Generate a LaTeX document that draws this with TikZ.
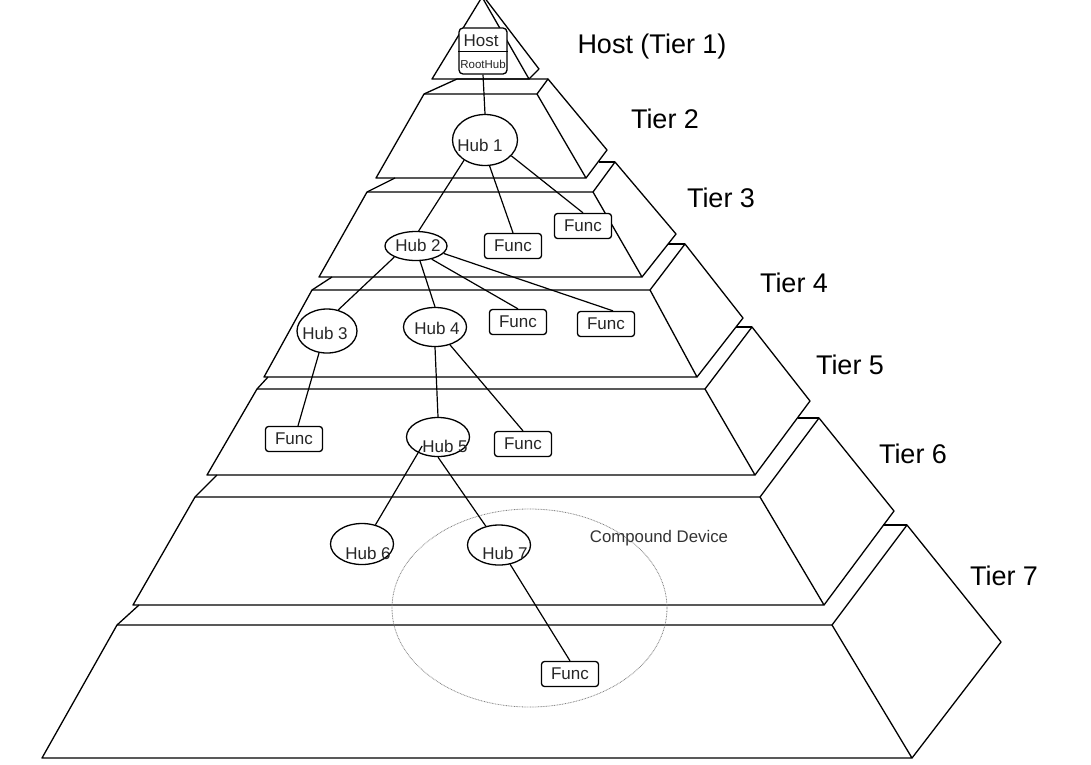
\documentclass[tikz,border=0pt]{standalone}
\usepackage{fontspec}
\setmainfont{Liberation Sans}
\usetikzlibrary{shapes.geometric}
\newcommand\nodefont{\fontsize{17}{19}\selectfont}
\newcommand\cdfont{\fontsize{16.8}{19}\selectfont}
\newcommand\smallfont{\fontsize{11.5}{13}\selectfont}
\newcommand\tierfont{\fontsize{27}{31}\selectfont}
\tikzset{
  pyr/.style={line width=1.3pt, line join=round, black},
  hub/.style={draw, ellipse, line width=1.3pt, inner sep=0pt, fill=white},
  hubtext/.style={inner sep=0pt, font=\nodefont, text=black!85},
  func/.style={draw, rounded corners=3pt, line width=1.3pt, minimum width=57pt, minimum height=25pt, inner sep=0pt, font=\nodefont, text=black!85, fill=white},
  tierlabel/.style={font=\tierfont, text=black},
  conn/.style={line width=1.2pt},
  compound/.style={draw=gray, ellipse, line width=0.8pt, dash pattern=on 0.8pt off 0.8pt, inner sep=0pt}
}
\begin{document}
\begin{tikzpicture}[x=1pt, y=-1pt]
\useasboundingbox (0,0) rectangle (1091,764);

% ---- pyramid tiers ----
% Tier 1
\draw[pyr] (432,79) -- (482,-3) -- (529,79) -- cycle;
\draw[pyr] (484,-3) -- (539,69) -- (529,79);
% Tier 2
\draw[pyr] (424,94) -- (537,94) -- (586,178) -- (376,178) -- cycle;
\draw[pyr] (537,94) -- (548,79) -- (607,150) -- (586,178);
\draw[pyr] (424,94) -- (457,79) -- (548,79);
% Tier 3
\draw[pyr] (367,192) -- (593,192) -- (642,277) -- (319,277) -- cycle;
\draw[pyr] (593,192) -- (615,162) -- (676,234) -- (642,277);
\draw[pyr] (367,192) -- (395,178);
\draw[pyr] (599,162) -- (615,162);
% Tier 4
\draw[pyr] (312,290) -- (650,290) -- (697,377) -- (264,377) -- cycle;
\draw[pyr] (650,290) -- (685,244) -- (743,318) -- (697,377);
\draw[pyr] (312,290) -- (332,277);
\draw[pyr] (668,244) -- (685,244);
% Tier 5
\draw[pyr] (257,389) -- (705,389) -- (755,475) -- (207,475) -- cycle;
\draw[pyr] (705,389) -- (752,327) -- (810,401) -- (755,475);
\draw[pyr] (257,389) -- (268,377);
\draw[pyr] (736,327) -- (752,327);
% Tier 6
\draw[pyr] (195,497) -- (760,497) -- (824,605) -- (133,605) -- cycle;
\draw[pyr] (760,497) -- (819,418) -- (894,511) -- (824,605);
\draw[pyr] (195,497) -- (217,475);
\draw[pyr] (798,418) -- (819,418);
% Tier 7
\draw[pyr] (117,625) -- (832,625) -- (912,758) -- (42,758) -- cycle;
\draw[pyr] (832,625) -- (907,525) -- (1001,642) -- (912,758);
\draw[pyr] (117,625) -- (139,605);
\draw[pyr] (883,525) -- (907,525);

% ---- tier labels ----
\node[tierlabel] (t1) at (652,47) {Host (Tier 1)};
\node[tierlabel] (t2) at (665,119) {Tier 2};
\node[tierlabel] (t3) at (721,198) {Tier 3};
\node[tierlabel] (t4) at (794,283) {Tier 4};
\node[tierlabel] (t5) at (850,365) {Tier 5};
\node[tierlabel] (t6) at (913,454) {Tier 6};
\node[tierlabel] (t7) at (1004,576) {Tier 7};

% ---- compound device ----
\node[compound, minimum width=275pt, minimum height=198pt] (cd) at (529.5,608) {};
\node[font=\cdfont, text=black!80, inner sep=0pt] (cdt) at (659,538) {Compound Device};

% ---- host box ----
\node[draw, rounded corners=4pt, line width=1.3pt, minimum width=48pt, minimum height=46pt, inner sep=0pt, fill=white] (host) at (483,51) {};
\draw[line width=1pt] (host.west) -- (host.east);
\node[hubtext] (hostt) at (481,41) {Host};
\node[inner sep=0pt, font=\smallfont, text=black!85] (rooth) at (483,64) {RootHub};

% ---- hubs ----
\node[hub, minimum width=65pt, minimum height=51pt] (h1) at (485,140) {};
\node[hubtext] (h1t) at (480,145) {Hub 1};
\node[hub, minimum width=62pt, minimum height=29pt] (h2) at (416,246) {};
\node[hubtext] (h2t) at (418,245) {Hub 2};
\node[hub, minimum width=60pt, minimum height=44pt] (h3) at (327,331) {};
\node[hubtext] (h3t) at (325,333) {Hub 3};
\node[hub, minimum width=63pt, minimum height=39pt] (h4) at (435,327) {};
\node[hubtext] (h4t) at (437,328) {Hub 4};
\node[hub, minimum width=63pt, minimum height=39pt] (h5) at (438,437) {};
\node[hubtext] (h5t) at (445,446) {Hub 5};
\node[hub, minimum width=63pt, minimum height=41pt] (h6) at (362,544) {};
\node[hubtext] (h6t) at (368,553) {Hub 6};
\node[hub, minimum width=63pt, minimum height=40pt] (h7) at (499,545) {};
\node[hubtext] (h7t) at (505,553) {Hub 7};

% ---- functions ----
\node[func] (f3a) at (513,246) {Func};
\node[func] (f3b) at (583,226) {Func};
\node[func] (f4a) at (518,322) {Func};
\node[func] (f4b) at (606,324) {Func};
\node[func] (f5a) at (294,439) {Func};
\node[func] (f5b) at (523,444) {Func};
\node[func] (f7) at (570,674) {Func};

% ---- connectors ----
\draw[conn] (host.south) -- (h1.north);
\draw[conn] (h1.224) -- (h2.80);
\draw[conn] (h1.-80) -- (f3a.north);
\draw[conn] (h1.-31) -- (f3b.north);
\draw[conn] (h2.207) -- (h3.62);
\draw[conn] (h2.-75) -- (h4.north);
\draw[conn] (h2.-40) -- (f4a.north);
\draw[conn] (h2.-15) -- ([xshift=7pt]f4b.north);
\draw[conn] (h3.-110) -- ([xshift=4pt]f5a.north);
\draw[conn] (h4.south) -- (h5.north);
\draw[conn] (h4.-50) -- (f5b.north);
\draw[conn] (h5t.west) -- (h6.55);
\draw[conn] (h5.south) -- (h7.125);
\draw[conn] (h7.-60) -- (f7.north);
\end{tikzpicture}
\end{document}
